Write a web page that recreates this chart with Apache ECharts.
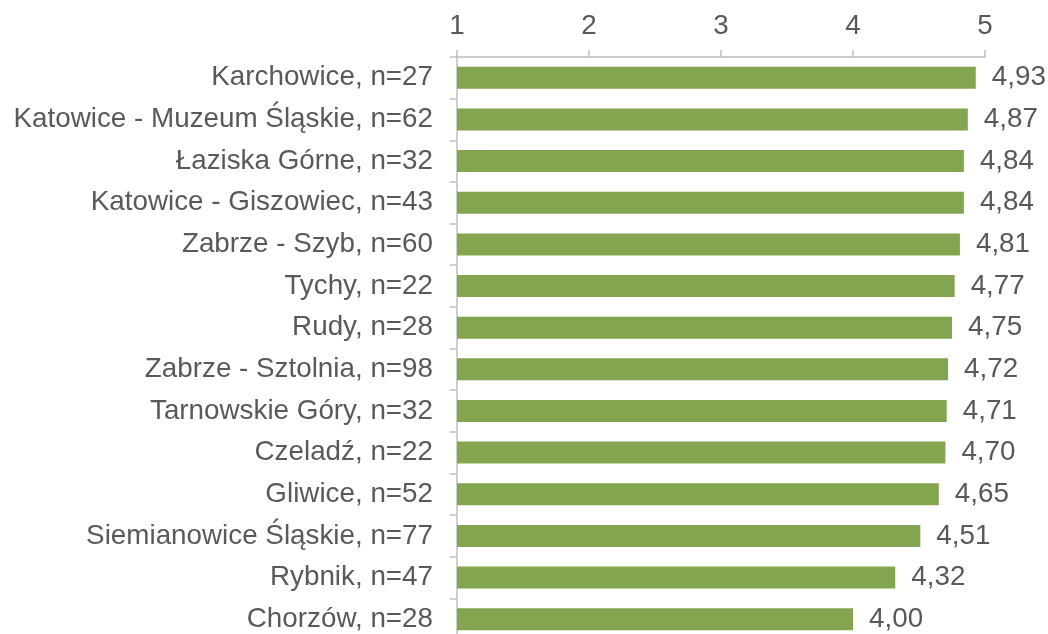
<!DOCTYPE html>
<html>
<head>
<meta charset="utf-8">
<script src="https://cdn.jsdelivr.net/npm/echarts@6/dist/echarts.min.js"></script>
<style>
  html, body { margin: 0; padding: 0; background: #fff; }
  #main { width: 1048px; height: 634px; }
</style>
</head>
<body>
<div id="main"></div>
<script>
var categories = [
  'Karchowice, n=27',
  'Katowice - Muzeum Śląskie, n=62',
  'Łaziska Górne, n=32',
  'Katowice - Giszowiec, n=43',
  'Zabrze - Szyb, n=60',
  'Tychy, n=22',
  'Rudy, n=28',
  'Zabrze - Sztolnia, n=98',
  'Tarnowskie Góry, n=32',
  'Czeladź, n=22',
  'Gliwice, n=52',
  'Siemianowice Śląskie, n=77',
  'Rybnik, n=47',
  'Chorzów, n=28'
];
var scores = [4.93, 4.87, 4.84, 4.84, 4.81, 4.77, 4.75, 4.72, 4.71, 4.70, 4.65, 4.51, 4.32, 4.00];

var textColor = '#595959';
var lineColor = '#bfbfbf';
var fontSize = 27.8;

var chart = echarts.init(document.getElementById('main'));
chart.setOption({
  animation: false,
  textStyle: { fontFamily: 'Liberation Sans, Arial, sans-serif' },
  // plot runs past the bottom edge (the last band is cut off in the original)
  grid: {
    left: 457, width: 528, top: 57, height: 583,
    containLabel: false, outerBoundsMode: 'none'
  },
  xAxis: {
    type: 'value',
    position: 'top',
    min: 1,
    max: 5,
    interval: 1,
    axisLine: { show: true, lineStyle: { color: lineColor, width: 1.5 } },
    axisTick: { show: true, length: 7, lineStyle: { color: lineColor, width: 1.5 } },
    axisLabel: { color: textColor, fontSize: fontSize, margin: 17 },
    splitLine: { show: false }
  },
  yAxis: {
    type: 'category',
    inverse: true,
    data: categories,
    axisLine: { show: true, lineStyle: { color: lineColor, width: 1.5 } },
    axisTick: { show: true, length: 7, lineStyle: { color: lineColor, width: 1.5 } },
    axisLabel: { color: textColor, fontSize: fontSize, margin: 24 }
  },
  series: [{
    type: 'bar',
    data: scores,
    barWidth: 22,
    itemStyle: { color: '#84a550' },
    label: {
      show: true,
      position: 'right',
      distance: 16,
      color: textColor,
      fontSize: fontSize,
      formatter: function (p) { return p.value.toFixed(2).replace('.', ','); }
    }
  }]
});
</script>
</body>
</html>
